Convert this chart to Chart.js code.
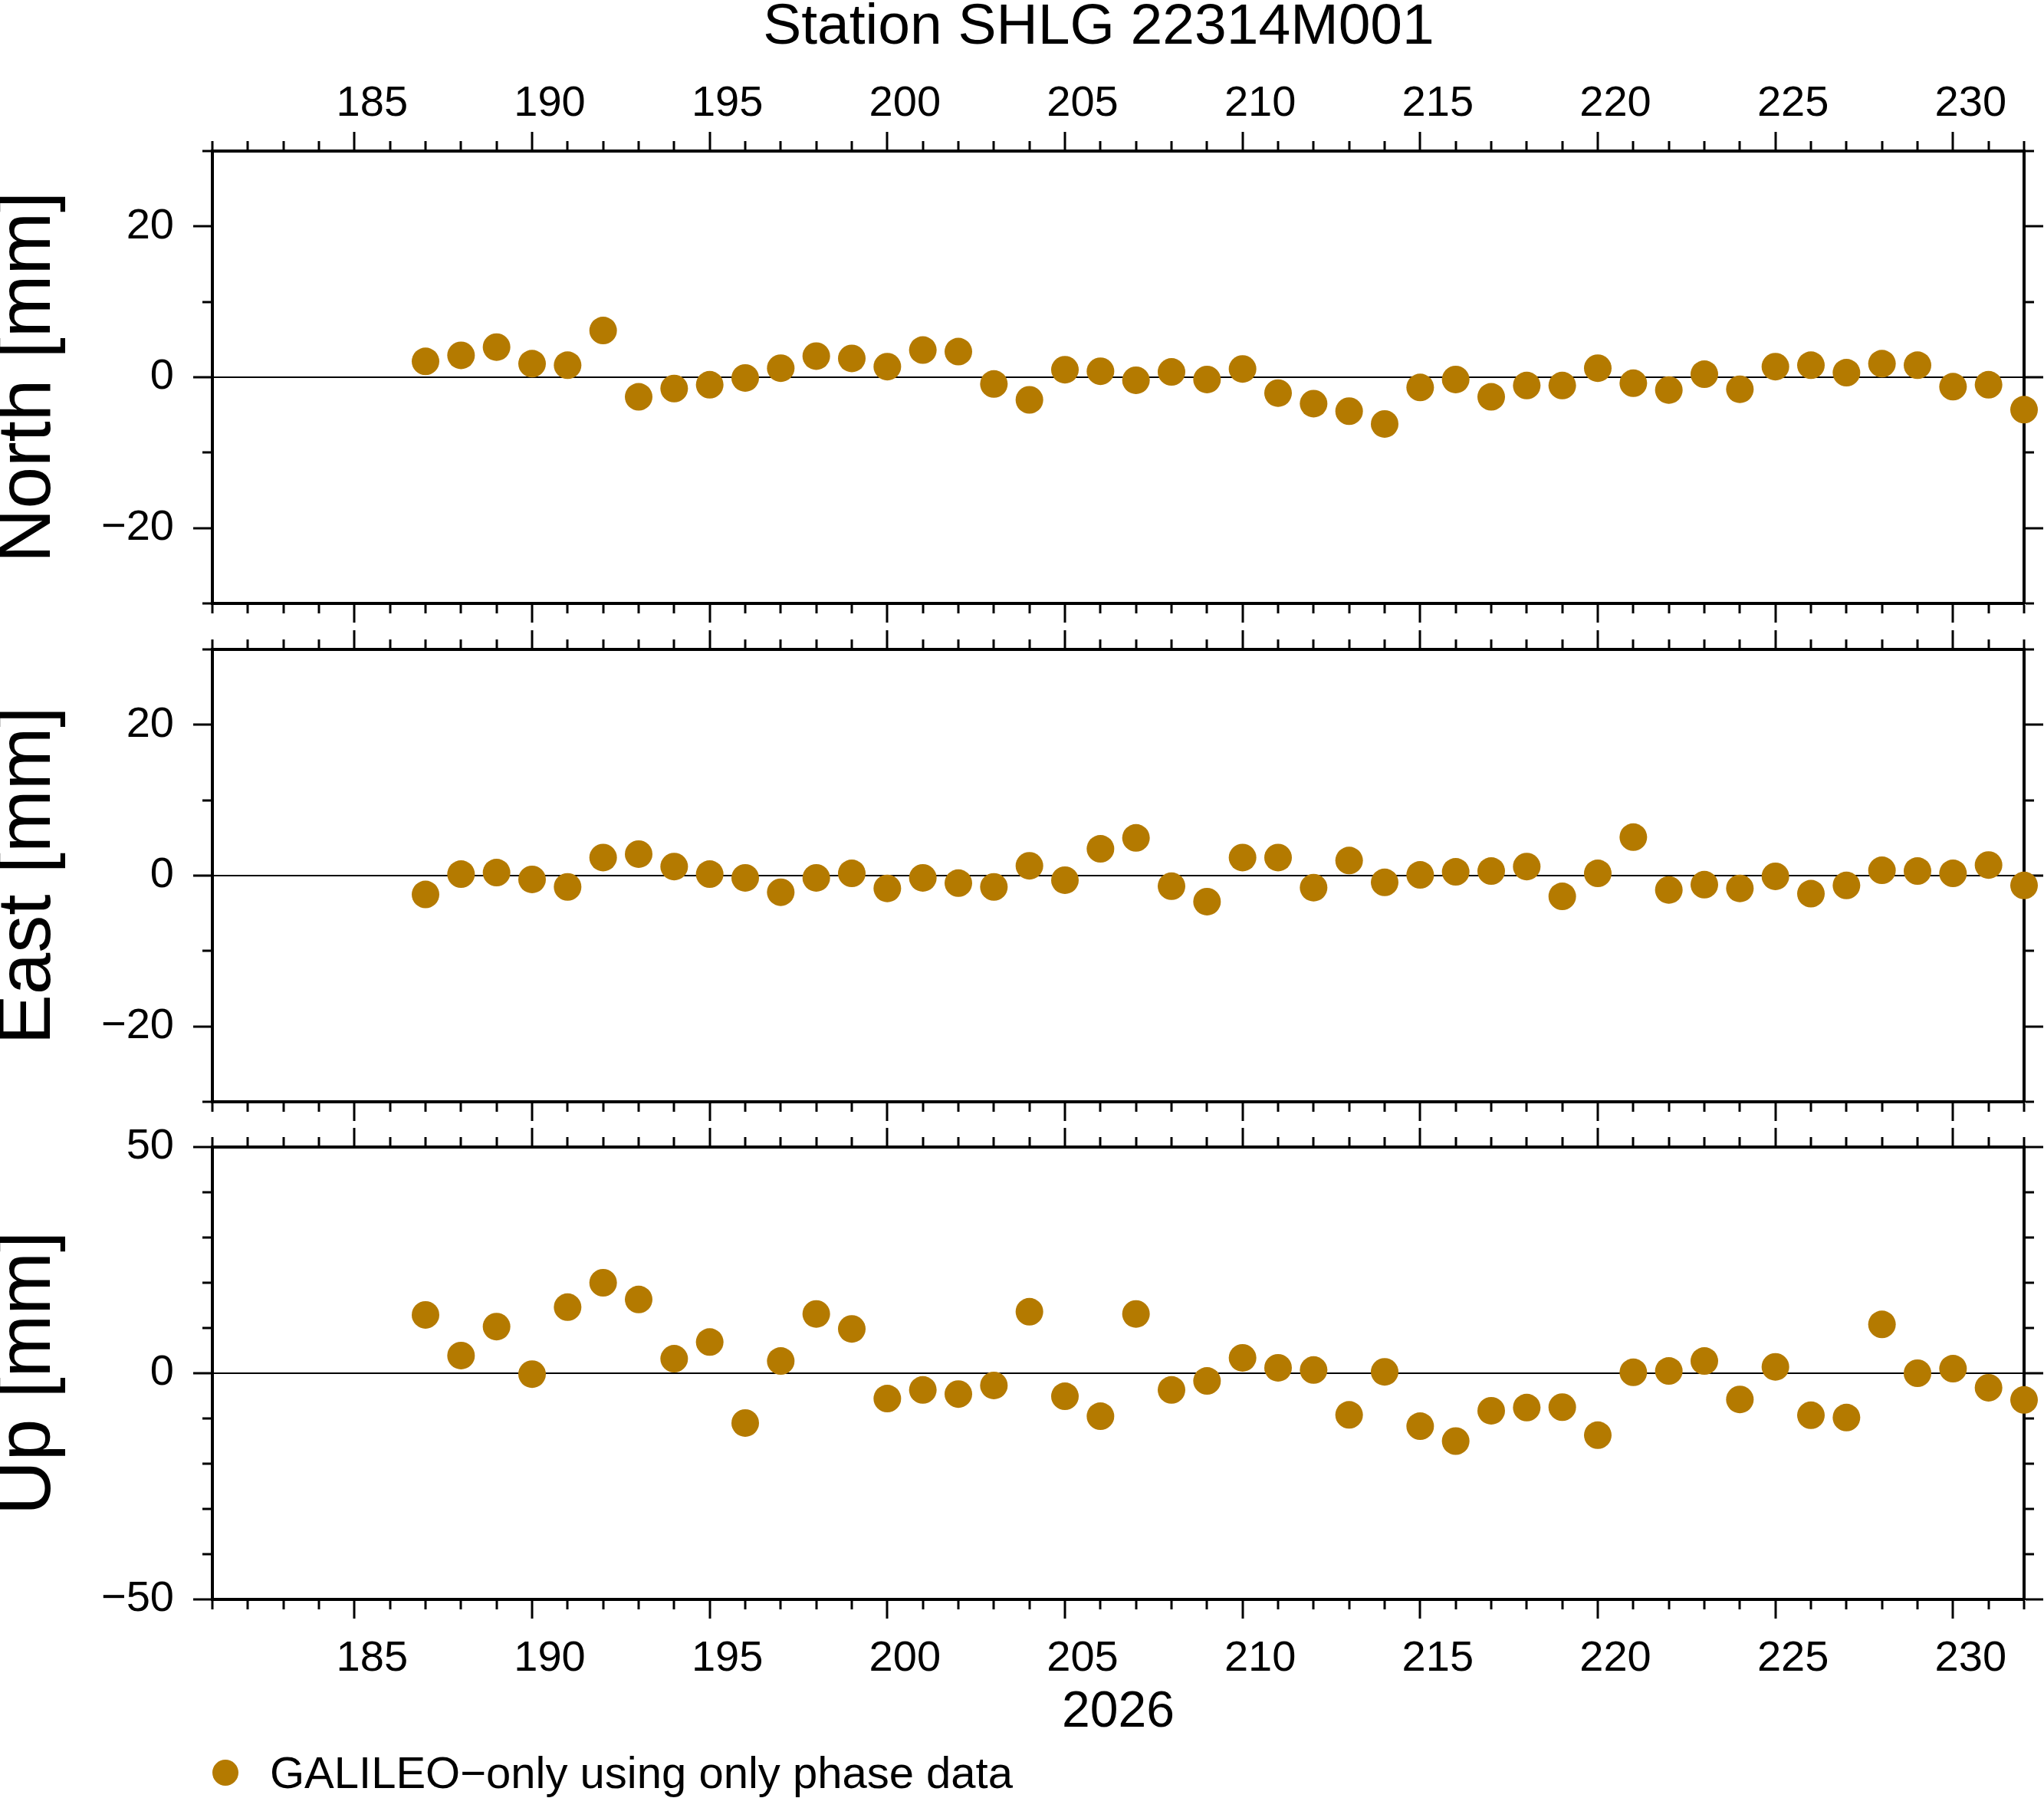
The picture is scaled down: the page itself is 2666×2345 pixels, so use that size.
<!DOCTYPE html>
<html lang="en">
<head>
  <meta charset="UTF-8" />
  <title>Station SHLG 22314M001</title>
  <script src="https://cdn.jsdelivr.net/npm/chart.js@4"></script>
  <style>
    html, body { margin: 0; padding: 0; background: #fff; }
    body {
      width: 2666px; height: 2345px; position: relative; overflow: hidden;
      font-family: "Liberation Sans", Arial, Helvetica, sans-serif; color: #000;
    }
    canvas { position: absolute; left: 0; }
    #title {
      position: absolute; left: 1433px; top: -6px; transform: translateX(-50%);
      font-size: 75px; line-height: 75px; white-space: nowrap;
    }
    #legendDot {
      position: absolute; left: 277px; top: 2295px; width: 34px; height: 34px;
      border-radius: 50%; background: #B47A00;
    }
    #legendText {
      position: absolute; left: 352px; top: 2282px;
      font-size: 58px; line-height: 60px; white-space: nowrap;
    }
  </style>
</head>
<body>
  <div id="title">Station SHLG 22314M001</div>
  <canvas id="northChart" width="2666" height="797" style="top:60px"></canvas>
  <canvas id="eastChart" width="2666" height="730" style="top:777px"></canvas>
  <canvas id="upChart" width="2666" height="844" style="top:1426px"></canvas>
  <div id="legendDot"></div>
  <div id="legendText">GALILEO&#8722;only using only phase data</div>

  <script>
    // day of year 2026
    const days = [187, 188, 189, 190, 191, 192, 193, 194, 195, 196, 197, 198, 199, 200, 201, 202,
      203, 204, 205, 206, 207, 208, 209, 210, 211, 212, 213, 214, 215, 216, 217, 218, 219, 220,
      221, 222, 223, 224, 225, 226, 227, 228, 229, 230, 231, 232];

    // residuals in mm
    const north = [2.1, 2.9, 4.0, 1.8, 1.6, 6.2, -2.6, -1.5, -1.0, -0.1, 1.2, 2.8, 2.5, 1.4, 3.6, 3.4,
      -0.9, -3.0, 1.0, 0.8, -0.4, 0.7, -0.3, 1.1, -2.1, -3.5, -4.5, -6.2, -1.35, -0.3, -2.6, -1.1,
      -1.1, 1.2, -0.8, -1.7, 0.4, -1.6, 1.4, 1.6, 0.6, 1.8, 1.6, -1.25, -1.0, -4.3];
    const east = [-2.5, 0.2, 0.4, -0.5, -1.5, 2.4, 2.85, 1.2, 0.2, -0.3, -2.2, -0.3, 0.3, -1.7, -0.3, -1.0,
      -1.5, 1.3, -0.6, 3.55, 5.0, -1.4, -3.45, 2.4, 2.4, -1.6, 2.0, -0.9, 0.1, 0.5, 0.6, 1.2,
      -2.75, 0.3, 5.1, -1.9, -1.2, -1.7, -0.1, -2.4, -1.3, 0.7, 0.6, 0.3, 1.4, -1.3];
    const up = [12.9, 3.9, 10.3, -0.2, 14.6, 20.0, 16.3, 3.2, 6.9, -11.0, 2.7, 13.1, 9.8, -5.6, -3.7, -4.6,
      -2.7, 13.6, -5.1, -9.5, 13.1, -3.7, -1.7, 3.4, 1.2, 0.7, -9.2, 0.3, -11.7, -15.0, -8.3, -7.6,
      -7.5, -13.7, 0.2, 0.5, 2.7, -5.8, 1.4, -9.3, -9.8, 10.8, 0.0, 1.0, -3.2, -5.9];

    // axis ranges and tick steps: [min, max, minor step, labelled step]
    const xAxis = [181, 232, 1, 5];
    const neAxis = [-30, 30, 10, 20];
    const upAxis = [-50, 50, 10, 50];

    const COLOR = '#B47A00';
    const TICK_LEN = 25;
    const MINOR_GAP = 12;

    Chart.defaults.font.family = '"Liberation Sans", Arial, Helvetica, sans-serif';
    Chart.defaults.color = '#000';

    const fmt = v => (v < 0 ? '\u2212' + Math.abs(v) : String(v));

    // outward ticks; minor ones are cut short with a dash pattern
    function tickGrid(side, majorStep, zeroLine) {
      const fromOutside = side === 'left' || side === 'top';
      return {
        drawOnChartArea: zeroLine,
        color: ctx => (zeroLine && ctx.tick && ctx.tick.value === 0 ? '#000' : 'rgba(0,0,0,0)'),
        lineWidth: 2,
        tickLength: TICK_LEN,
        tickWidth: 3,
        tickColor: '#000',
        tickBorderDash: ctx => {
          if (!ctx.tick || ctx.tick.value % majorStep === 0) return [];
          return fromOutside ? [0, MINOR_GAP, 60] : [TICK_LEN - MINOR_GAP - 2, 60];
        }
      };
    }

    const frame = { display: true, width: 4, color: '#000' };

    function xScale(side, size, labels, title) {
      return {
        type: 'linear', position: side, min: xAxis[0], max: xAxis[1],
        afterFit: s => { s.height = size; },
        border: frame,
        grid: tickGrid(side, xAxis[3], false),
        ticks: {
          display: labels, stepSize: xAxis[2], autoSkip: false, maxTicksLimit: 200,
          maxRotation: 0, minRotation: 0, padding: side === 'top' ? 3 : 19,
          labelOffset: 23,   // day labels sit in the middle of the day
          font: { size: 56 },
          callback: v => (v % xAxis[3] === 0 ? String(v) : '')
        },
        title: title
          ? { display: true, text: title, font: { size: 66, lineHeight: 1.1 }, padding: { top: 0, bottom: 0 } }
          : { display: false }
      };
    }

    function yScale(side, range, title) {
      const left = side === 'left';
      return {
        type: 'linear', position: side, min: range[0], max: range[1],
        afterFit: s => { s.width = left ? 277 : 26; },
        border: frame,
        grid: tickGrid(side, range[3], left),
        ticks: {
          display: left, stepSize: range[2], autoSkip: false, maxTicksLimit: 200, padding: 25,
          font: { size: 56 },
          callback: v => (v % range[3] === 0 ? fmt(v) : '')
        },
        title: left
          ? { display: true, text: title, font: { size: 98, lineHeight: 0.78 }, padding: 0 }
          : { display: false }
      };
    }

    function panel(id, values, range, label, cfg) {
      return new Chart(document.getElementById(id), {
        type: 'scatter',
        data: {
          datasets: [{
            label: 'GALILEO\u2212only using only phase data',
            data: days.map((d, i) => ({ x: d, y: values[i] })),
            backgroundColor: COLOR,
            borderColor: COLOR,
            borderWidth: 0,
            pointRadius: 18,
            pointHoverRadius: 18,
            clip: false
          }]
        },
        options: {
          responsive: false,
          animation: false,
          devicePixelRatio: 1,
          events: [],
          layout: { padding: 0 },
          plugins: { legend: { display: false }, tooltip: { enabled: false } },
          scales: {
            x: xScale('bottom', cfg.bottom, cfg.bottomLabels, cfg.xTitle),
            x2: xScale('top', cfg.top, cfg.topLabels, null),
            y: yScale('left', range, label),
            y2: yScale('right', range, label)
          }
        }
      });
    }

    // plot frames: north 197-787, east 847-1437, up 1496-2086 (page pixels)
    panel('northChart', north, neAxis, 'North [mm]', { top: 137, bottom: 70, topLabels: true, bottomLabels: false });
    panel('eastChart', east, neAxis, 'East [mm]', { top: 70, bottom: 70, topLabels: false, bottomLabels: false });
    panel('upChart', up, upAxis, 'Up [mm]', { top: 70, bottom: 184, topLabels: false, bottomLabels: true, xTitle: '2026' });
  </script>
</body>
</html>
